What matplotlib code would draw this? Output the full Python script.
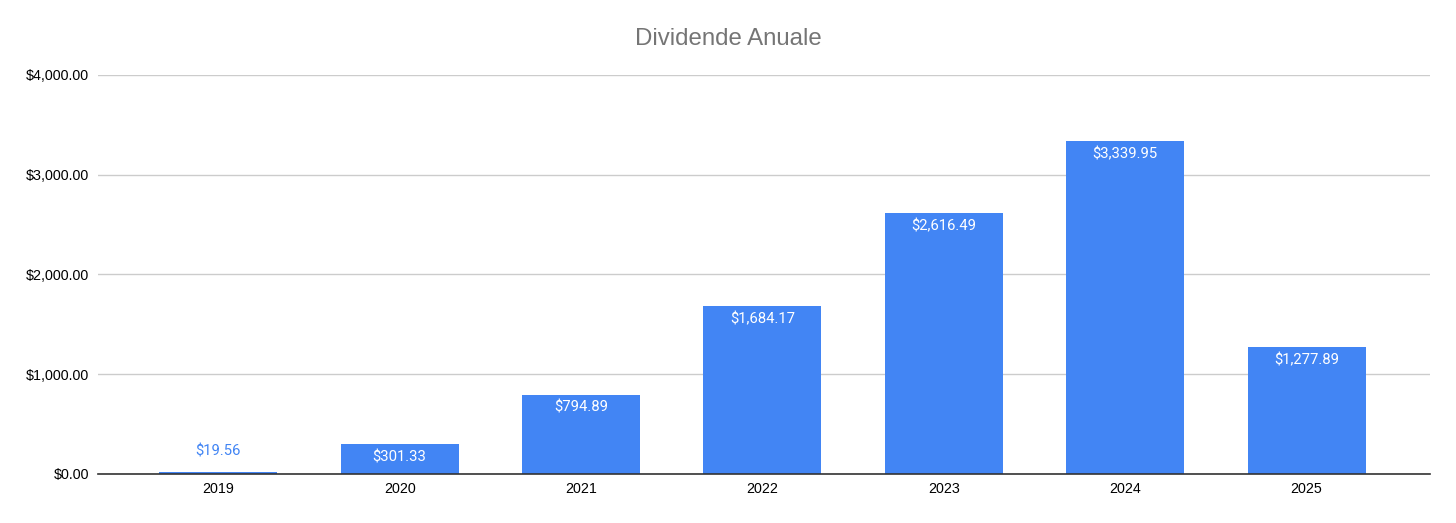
import numpy as np
import matplotlib.pyplot as plt
from matplotlib.ticker import FuncFormatter

# data
years = ["2019", "2020", "2021", "2022", "2023", "2024", "2025"]
dividends = [19.56, 301.33, 794.89, 1684.17, 2616.49, 3339.95, 1277.89]

bar_color = "#4285f4"

fig = plt.figure(figsize=(14.56, 5.23), dpi=100)
ax = fig.add_axes([0.0673, 0.0937, 0.9148, 0.7629])

x = np.arange(len(years))
ax.bar(x, dividends, width=0.65, color=bar_color, zorder=3)

ax.set_xlim(-0.663, 6.68)
ax.set_ylim(0, 4000)
ax.set_yticks([0, 1000, 2000, 3000, 4000])
ax.yaxis.set_major_formatter(FuncFormatter(lambda v, p: "${:,.2f}".format(v)))
ax.set_xticks(x)
ax.set_xticklabels(years)
ax.tick_params(axis="both", length=0, labelsize=10.3, labelcolor="#000000",
               labelfontfamily="Liberation Sans")
ax.tick_params(axis="y", pad=6.5)
ax.tick_params(axis="x", pad=5.5)

ax.grid(axis="y", color="#cccccc", linewidth=1, zorder=0)
for s in ["top", "right", "left"]:
    ax.spines[s].set_visible(False)
ax.spines["bottom"].set_color("#333333")
ax.spines["bottom"].set_linewidth(1.2)
ax.spines["bottom"].set_zorder(4)

# value labels
for xi, v in zip(x, dividends):
    txt = "${:,.2f}".format(v)
    if v < 200:
        ax.annotate(txt, (xi, v), xytext=(0, 9.5), textcoords="offset points",
                    ha="center", va="bottom", color=bar_color, fontsize=10.7,
                    fontfamily="Roboto")
    else:
        ax.annotate(txt, (xi, v), xytext=(0, -4.5), textcoords="offset points",
                    ha="center", va="top", color="white", fontsize=10.7,
                    fontfamily="Roboto", zorder=5)

fig.text(0.5, 1 - 39 / 523, "Dividende Anuale", ha="center", va="center",
         fontsize=17.3, color="#757575", fontfamily="Liberation Sans")

fig.savefig("out.png", dpi=100)
